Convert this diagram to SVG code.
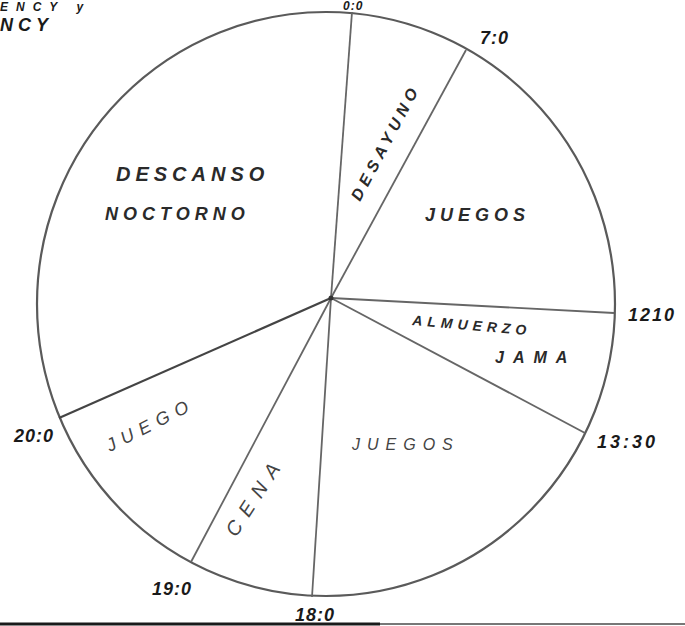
<svg xmlns="http://www.w3.org/2000/svg" width="685" height="626" viewBox="0 0 685 626">
<style>
.rim{fill:none;stroke:#5a5a5a;stroke-width:2.2}
.spoke{stroke:#666;stroke-width:1.8;fill:none}
.lbl{font-family:"Liberation Sans",Arial,sans-serif;font-style:italic;font-weight:bold;fill:#2a2a2a;font-size:15px;letter-spacing:5px}
.thin{font-weight:normal;fill:#444}
.time{font-family:"Liberation Sans",Arial,sans-serif;font-weight:bold;font-style:italic;fill:#1a1a1a;font-size:18px;letter-spacing:1px}
</style>
<rect width="685" height="626" fill="#fff"/>
<g id="header">
<text class="time" x="0" y="11" style="letter-spacing:8px;font-size:12px">ENCY y</text>
<text class="time" x="0" y="31" style="letter-spacing:5px">NCY</text>
</g>
<g id="clock">
<ellipse class="rim" cx="326" cy="304" rx="289" ry="292"/>
</g>
<g id="connectors">
<line class="spoke" x1="331" y1="298" x2="352" y2="12"/>
<line class="spoke" x1="331" y1="298" x2="466" y2="50"/>
<line class="spoke" x1="331" y1="298" x2="614" y2="313"/>
<line class="spoke" x1="331" y1="298" x2="585" y2="433"/>
<line class="spoke" x1="331" y1="298" x2="312" y2="597"/>
<line class="spoke" x1="331" y1="298" x2="191" y2="562"/>
<line class="spoke" x1="331" y1="298" x2="59" y2="418" style="stroke:#444;stroke-width:2.2"/>
<circle cx="331" cy="298" r="2.5" fill="#333"/>
</g>
<g id="descanso">
<text class="lbl" x="116" y="181" style="letter-spacing:5px;font-size:20px">DESCANSO</text>
<text class="lbl" x="105" y="220" style="letter-spacing:5px;font-size:18px">NOCTORNO</text>
</g>
<g id="desayuno">
<text class="lbl" transform="translate(360,202) rotate(-62)" style="letter-spacing:5px;font-size:16px">DESAYUNO</text>
</g>
<g id="juegos-manana">
<text class="lbl" x="425" y="221" style="letter-spacing:5px;font-size:18px">JUEGOS</text>
</g>
<g id="almuerzo">
<text class="lbl" transform="translate(412,325) rotate(5)" style="letter-spacing:5px;font-size:14px">ALMUERZO</text>
<text class="lbl" x="495" y="363" style="letter-spacing:9px;font-size:16px">JAMA</text>
</g>
<g id="juegos-tarde">
<text class="lbl thin" x="352" y="450" style="letter-spacing:7px;font-size:16px">JUEGOS</text>
</g>
<g id="cena">
<text class="lbl thin" transform="translate(236,538) rotate(-57)" style="letter-spacing:9px;font-size:20px">CENA</text>
</g>
<g id="juego">
<text class="lbl thin" transform="translate(110,452) rotate(-27)" style="letter-spacing:7px;font-size:18px">JUEGO</text>
</g>
<g id="times">
<text class="time" x="343" y="10" style="font-size:12px">0:0</text>
<text class="time" x="480" y="44">7:0</text>
<text class="time" x="628" y="321" style="letter-spacing:2px">1210</text>
<text class="time" x="597" y="448" style="letter-spacing:3px">13:30</text>
<text class="time" x="295" y="621">18:0</text>
<text class="time" x="152" y="595">19:0</text>
<text class="time" x="14" y="442">20:0</text>
</g>
<g id="frame">
<line x1="0" y1="624" x2="380" y2="624" stroke="#1a1a1a" stroke-width="3"/>
<line x1="380" y1="624" x2="685" y2="624" stroke="#777" stroke-width="2"/>
</g>
</svg>
